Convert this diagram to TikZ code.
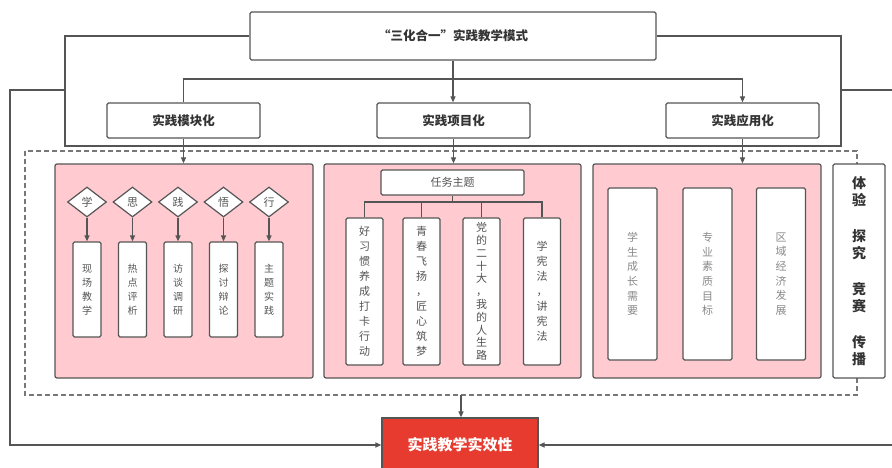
\documentclass[tikz,border=0pt]{standalone}
\usepackage{fontspec}
\setmainfont{Noto Sans CJK SC}
\usetikzlibrary{shapes.geometric,arrows.meta}
\definecolor{ln}{HTML}{555555}
\definecolor{pk}{HTML}{FFCBD1}
\definecolor{rd}{HTML}{E63B2E}
\definecolor{tx}{HTML}{333333}
\definecolor{gt}{HTML}{8A8A8A}
\begin{document}
\begin{tikzpicture}[x=1pt,y=-1pt,
  conn/.style={draw=ln, line width=1.2pt},
  arr/.style={conn, -{Triangle[length=6pt,width=5pt]}},
  box/.style={draw=ln, line width=1.2pt, fill=white, rounded corners=1.5pt, inner sep=0pt, text=tx},
  pinkbox/.style={draw=ln, line width=1.2pt, fill=pk, rounded corners=2pt, inner sep=0pt},
  headlbl/.style={font=\fontsize{12.5}{14}\selectfont\bfseries},
  vbox/.style={box, align=center, font=\fontsize{10}{14}\selectfont, text=ln},
  tbox/.style={box, align=center, font=\fontsize{11}{15}\selectfont, text=ln},
  gbox/.style={box, align=center, font=\fontsize{11}{14.7}\selectfont, text=gt},
  dmd/.style={draw=ln, line width=1.2pt, fill=white, shape=diamond, inner sep=0pt, minimum width=39pt, minimum height=30pt, font=\fontsize{11}{12}\selectfont, text=ln}
]
\useasboundingbox (0,0) rectangle (892,468);
\clip (0,0) rectangle (892,468);

% top box
\node[box, headlbl, minimum width=406pt, minimum height=48pt] (top) at (453,36) {“三化合一”实践教学模式};

% outer loop
\coordinate (lc) at (65,146);
\coordinate (rc) at (841,146);
\draw[conn] (top.west) -| (lc) -- (rc) |- (top.east);

% second row boxes
\node[box, headlbl, minimum width=153pt, minimum height=35pt] (m1) at (183.5,120.5) {实践模块化};
\node[box, headlbl, minimum width=153pt, minimum height=35pt] (m2) at (453.5,120.5) {实践项目化};
\node[box, headlbl, minimum width=153pt, minimum height=35pt] (m3) at (742.5,120.5) {实践应用化};

\coordinate (hl) at (183.5,79);
\coordinate (hr) at (742.5,79);
\draw[conn] (m1.north) -- (hl) -- (hr);
\draw[arr] (hr) -- (m3.north);
\draw[arr] (top.south) -- (top.south |- m2.north);

% dashed frame
\draw[draw=ln!80, line width=1.2pt, dash pattern=on 5pt off 3pt] (25,151) rectangle (857,395);

% pink boxes
\node[pinkbox, minimum width=258pt, minimum height=214pt] (p1) at (184,271) {};
\node[pinkbox, minimum width=257pt, minimum height=214pt] (p2) at (452.5,271) {};
\node[pinkbox, minimum width=228pt, minimum height=214pt] (p3) at (707,271) {};
\node[box, minimum width=52pt, minimum height=214pt, align=center, font=\fontsize{14}{17.5}\selectfont\bfseries] (rb) at (859,271) {体\\验\\[18pt]探\\究\\[18pt]竞\\赛\\[18pt]传\\播};

\draw[arr] (m1.south) -- (m1.south |- p1.north);
\draw[arr] (m2.south) -- (m2.south |- p2.north);
\draw[arr] (m3.south) -- (m3.south |- p3.north);

% box 1 content
\node[dmd] (d1) at (87,202) {学};
\node[dmd] (d2) at (132.5,202) {思};
\node[dmd] (d3) at (178,202) {践};
\node[dmd] (d4) at (223.5,202) {悟};
\node[dmd] (d5) at (269,202) {行};
\node[vbox, minimum width=28pt, minimum height=95pt] (b1) at (87,289.5) {现\\场\\教\\学};
\node[vbox, minimum width=28pt, minimum height=95pt] (b2) at (132.5,289.5) {热\\点\\评\\析};
\node[vbox, minimum width=28pt, minimum height=95pt] (b3) at (178,289.5) {访\\谈\\调\\研};
\node[vbox, minimum width=28pt, minimum height=95pt] (b4) at (223.5,289.5) {探\\讨\\辩\\论};
\node[vbox, minimum width=28pt, minimum height=95pt] (b5) at (269,289.5) {主\\题\\实\\践};
\foreach \i in {1,...,5} {\draw[arr] (d\i.south) -- (b\i.north);}

% box 2 content
\node[box, minimum width=143pt, minimum height=25pt, font=\fontsize{11}{12}\selectfont, text=ln] (t) at (452.5,182.5) {任务主题};
\node[tbox, minimum width=37pt, minimum height=147pt] (v1) at (364.5,291.5) {好\\习\\惯\\养\\成\\打\\卡\\行\\动};
\node[tbox, minimum width=37pt, minimum height=147pt] (v2) at (421.5,291.5) {青\\春\\飞\\扬\\，\\匠\\心\\筑\\梦};
\node[box, align=center, font=\fontsize{11}{12.8}\selectfont, text=ln, minimum width=37pt, minimum height=147pt] (v3) at (481.5,291.5) {党\\的\\二\\十\\大\\，\\我\\的\\人\\生\\路};
\node[tbox, minimum width=37pt, minimum height=147pt] (v4) at (542,291.5) {学\\宪\\法\\，\\讲\\宪\\法};
\coordinate (j) at (452.5,202);
\draw[conn] (t.south) -- (j);
\draw[conn] (v1.north) -- (v1.north |- j) -- (v4.north |- j) -- (v4.north);
\draw[conn] (v2.north) -- (v2.north |- j);
\draw[conn] (v3.north) -- (v3.north |- j);

% box 3 content
\node[gbox, minimum width=49pt, minimum height=172pt] (a1) at (632.5,274) {学\\生\\成\\长\\需\\要};
\node[gbox, minimum width=49pt, minimum height=172pt] (a2) at (707.5,274) {专\\业\\素\\质\\目\\标};
\node[gbox, minimum width=49pt, minimum height=172pt] (a3) at (781,274) {区\\域\\经\\济\\发\\展};

% result box
\node[draw=ln, line width=1.2pt, fill=rd, minimum width=156pt, minimum height=54pt, inner sep=0pt, text=white, font=\fontsize{15}{16}\selectfont\bfseries] (red) at (460,445) {实践教学实效性};
\coordinate (db) at (461,395);
\draw[arr] (db) -- (db |- red.north);

% side feedback lines
\coordinate (lj) at (65,90);
\coordinate (rj) at (841,90);
\draw[arr] (lj) -- (10,90) |- (red.west);
\draw[arr] (rj) -- (896,90) |- (red.east);
\end{tikzpicture}
\end{document}
